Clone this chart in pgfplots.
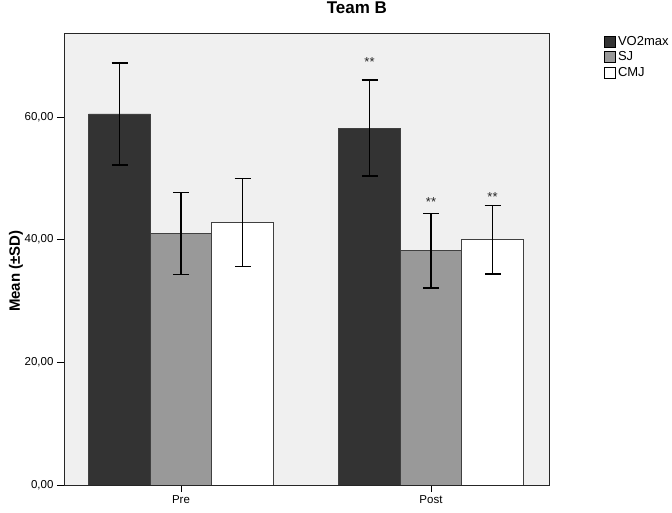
\documentclass[border=0pt]{standalone}
\usepackage{pgfplots}
\pgfplotsset{compat=1.18}
\usepackage{fontspec}
\setmainfont{Liberation Sans}
\definecolor{barDark}{RGB}{51,51,51}
\definecolor{barGray}{RGB}{153,153,153}
\definecolor{bgGray}{RGB}{240,240,240}
\begin{document}
\begin{tikzpicture}
\useasboundingbox (-64pt,-28pt) rectangle (608pt,485pt);
\begin{axis}[
  at={(0pt,0pt)}, anchor=south west,
  scale only axis, width=485pt, height=452pt,
  ybar, bar width=0.246, bar shift=0pt,
  xmin=-0.468, xmax=1.472, ymin=0, ymax=73.7,
  xtick={0,1}, xticklabels={Pre,Post},
  ytick={0,20,40,60},
  /pgf/number format/assume math mode=true,
  yticklabel style={/pgf/number format/fixed, /pgf/number format/fixed zerofill, /pgf/number format/precision=2, /pgf/number format/use comma},
  ticklabel style={font=\fontsize{11.5}{12}\selectfont},
  tick align=outside, tick pos=left, major tick length=7pt,
  tick style={black, line width=0.9pt},
  axis line style={draw=black!85, line width=0.9pt},
  axis background/.style={fill=bgGray},
  ylabel={Mean (±SD)},
  ylabel style={font=\bfseries\fontsize{15}{16}\selectfont, at={(axis description cs:-0.099,0.473)}, anchor=center},
  title={Team B},
  title style={font=\bfseries\fontsize{17}{18}\selectfont, at={(axis description cs:0.604,1)}, anchor=base, yshift=13pt},
  legend style={at={(1,1)}, anchor=north west, xshift=55pt, yshift=-1pt, draw=none, fill=none, font=\fontsize{13}{14}\selectfont, row sep=1pt, inner sep=0pt, cells={anchor=west}},
  legend image code/.code={\draw[#1, draw=black] (0pt,-5.5pt) rectangle (11pt,5.5pt);},
]
\addplot[fill=barDark, draw=black!75, line width=0.8pt,
  error bars/.cd, y dir=both, y explicit, error mark=-,
  error bar style={line width=1.6pt, black, solid},
  error mark options={rotate=90, line width=1.6pt, black, mark size=8pt, solid}]
  coordinates {(-0.246,60.5) +- (0,8.3) (0.754,58.2) +- (0,7.8)};
\addlegendentry{VO2max}
\addplot[fill=barGray, draw=black!75, line width=0.8pt,
  error bars/.cd, y dir=both, y explicit, error mark=-,
  error bar style={line width=1.6pt, black, solid},
  error mark options={rotate=90, line width=1.6pt, black, mark size=8pt, solid}]
  coordinates {(0,41.0) +- (0,6.7) (1,38.2) +- (0,6.1)};
\addlegendentry{SJ}
\addplot[fill=white, draw=black!75, line width=0.8pt,
  error bars/.cd, y dir=both, y explicit, error mark=-,
  error bar style={line width=1.6pt, black, solid},
  error mark options={rotate=90, line width=1.6pt, black, mark size=8pt, solid}]
  coordinates {(0.246,42.8) +- (0,7.2) (1.246,40.0) +- (0,5.6)};
\addlegendentry{CMJ}
\node[font=\fontsize{13}{13}\selectfont, anchor=base, text=black!85] at (axis cs:0.754,68.2) {**};
\node[font=\fontsize{13}{13}\selectfont, anchor=base, text=black!85] at (axis cs:1.0,45.4) {**};
\node[font=\fontsize{13}{13}\selectfont, anchor=base, text=black!85] at (axis cs:1.246,46.2) {**};
\end{axis}
\end{tikzpicture}
\end{document}
